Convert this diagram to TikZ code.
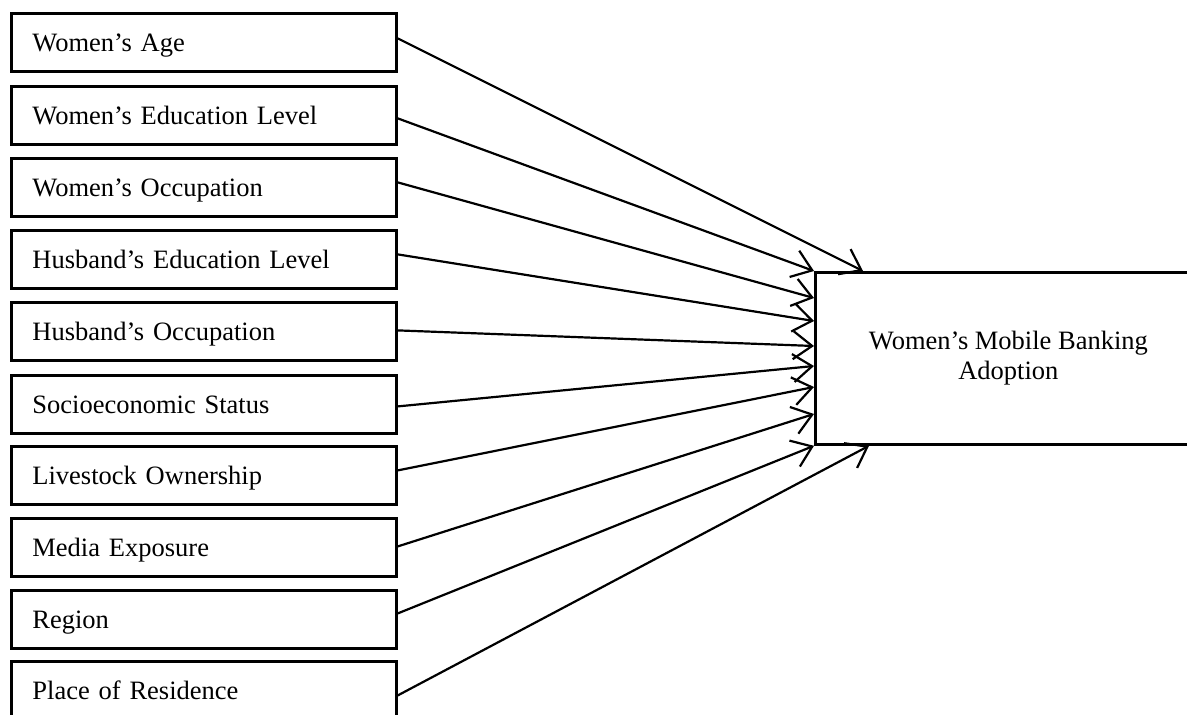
\documentclass[tikz,border=0pt]{standalone}
\usepackage{fontspec}
\setmainfont{Liberation Serif}
\usetikzlibrary{arrows.meta,calc}
\begin{document}
\begin{tikzpicture}[x=1pt,y=-1pt,
  factor/.style={draw, line width=2.8pt, anchor=north west, minimum height=58pt,
    text width=343pt, inner xsep=21pt, inner ysep=0pt, align=left,
    text height=18pt, text depth=0pt, font=\fontsize{26.5}{30}\selectfont},
  outcome/.style={draw, line width=2.8pt, anchor=north west, minimum width=386pt,
    minimum height=172pt, align=center, inner sep=0pt, font=\fontsize{26.5}{30}\selectfont},
  link/.style={line width=2.2pt, -{Straight Barb[length=19pt,width=28pt,line width=2.2pt]}}]
\useasboundingbox (0,0) rectangle (1187,715);
\fill[white] (0,0) rectangle (1187,715);
\clip (0,0) rectangle (1187,715);
\node[factor] (b1) at (10,12) {Women’s Age};
\node[factor] (b2) at (10,85) {Women’s Education Level};
\node[factor] (b3) at (10,157) {Women’s Occupation};
\node[factor] (b4) at (10,229) {Husband’s Education Level};
\node[factor] (b5) at (10,301) {Husband’s Occupation};
\node[factor] (b6) at (10,374) {Socioeconomic Status};
\node[factor] (b7) at (10,445) {Livestock Ownership};
\node[factor] (b8) at (10,517) {Media Exposure};
\node[factor] (b9) at (10,589) {Region};
\node[factor] (b10) at (10,660) {Place of Residence};
\node[outcome] (out) at (814,271) {Women’s Mobile Banking\\Adoption};
\draw[link] ($(b1.east)+(0,-4)$) -- ($(out.north west)+(49,0)$);
\draw[link] ($(b2.east)+(0,3)$) -- ($(out.north west)+(0,0)$);
\draw[link] ($(b3.east)+(0,-5)$) -- ($(out.north west)+(0,27)$);
\draw[link] ($(b4.east)+(0,-5)$) -- ($(out.north west)+(0,50)$);
\draw[link] ($(b5.east)+(0,-1)$) -- ($(out.north west)+(0,75)$);
\draw[link] ($(b6.east)+(0,2)$) -- ($(out.north west)+(0,95)$);
\draw[link] ($(b7.east)+(0,-5)$) -- ($(out.north west)+(0,116)$);
\draw[link] ($(b8.east)+(0,-1)$) -- ($(out.north west)+(0,143)$);
\draw[link] ($(b9.east)+(0,-6)$) -- ($(out.south west)+(0,0)$);
\draw[link] ($(b10.east)+(0,5)$) -- ($(out.south west)+(55,0)$);
\end{tikzpicture}
\end{document}
